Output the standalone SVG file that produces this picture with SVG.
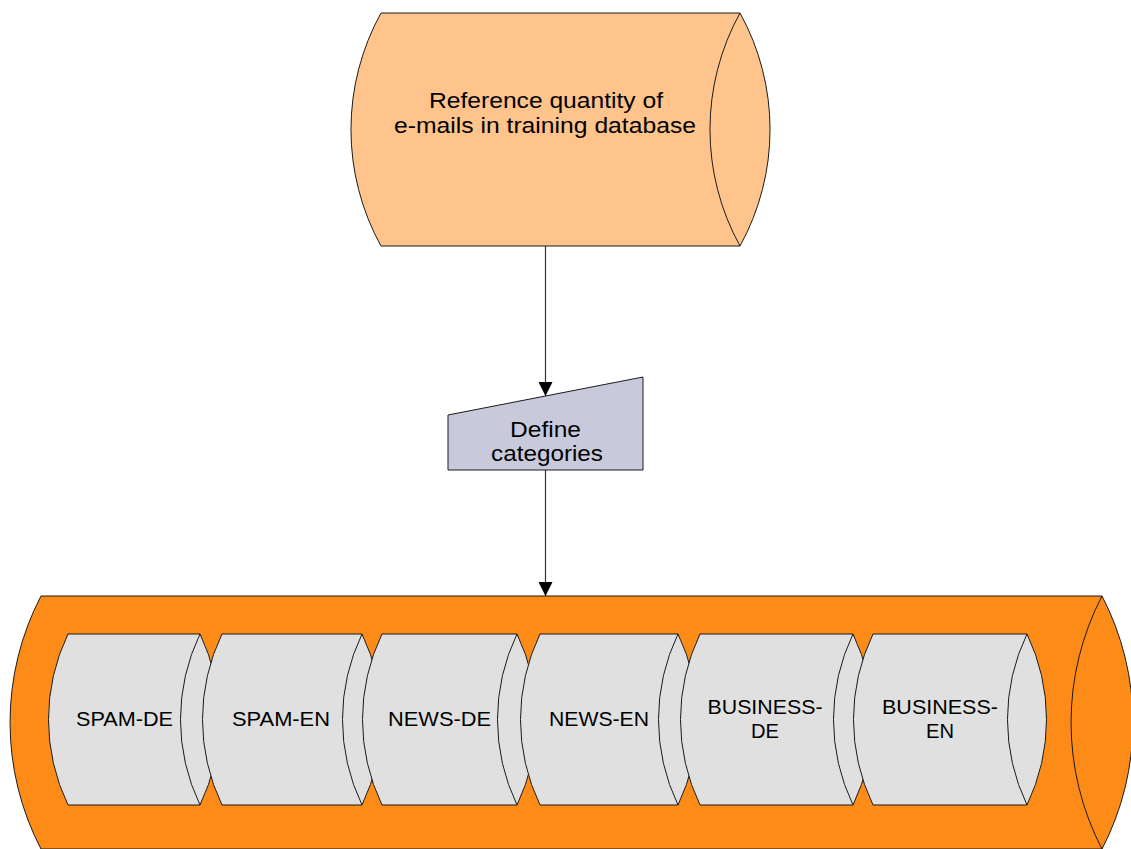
<svg xmlns="http://www.w3.org/2000/svg" width="1131" height="849" viewBox="0 0 1131 849">
  <defs>
    <marker id="arrow" viewBox="0 0 14 14" refX="14" refY="7" markerWidth="14" markerHeight="14" markerUnits="userSpaceOnUse" orient="auto">
      <path d="M0,0 L14,7 L0,14 Z" fill="#000"/>
    </marker>
    <style>
      .edge { stroke: #1a1a1a; stroke-width: 1; fill: none; }
      .line { stroke: #333; stroke-width: 1.2; fill: none; }
      .label { font-family: "Liberation Sans", Arial, sans-serif; fill: #000; text-anchor: middle; }
      .db { fill: #FFC48B; stroke: #1a1a1a; stroke-width: 1; }
      .func { fill: #C8CADB; stroke: #1a1a1a; stroke-width: 1; }
      .cluster { fill: #FD8B17; stroke: #1a1a1a; stroke-width: 1; }
      .cat { fill: #E0E0E0; stroke: #1a1a1a; stroke-width: 1; }
    </style>
  </defs>

  <rect width="1131" height="849" fill="#fff"/>

  <!-- Connectors -->
  <g id="connectors">
    <line class="line" x1="545.5" y1="246" x2="545.5" y2="396" marker-end="url(#arrow)"/>
    <line class="line" x1="545.5" y1="470" x2="545.5" y2="596" marker-end="url(#arrow)"/>
  </g>

  <!-- Source data store -->
  <g id="reference-emails">
    <path class="db" d="M381,13 L740,13 A241 241 0 0 1 740,246 L381,246 A241 241 0 0 1 381,13 Z"/>
    <path class="edge" d="M740,13 A241 241 0 0 0 740,246"/>
    <text class="label" font-size="22" x="546" y="108" textLength="234" lengthAdjust="spacingAndGlyphs">Reference quantity of</text>
    <text class="label" font-size="22" x="545" y="133" textLength="302" lengthAdjust="spacingAndGlyphs">e-mails in training database</text>
  </g>

  <!-- Function -->
  <g id="define-categories">
    <polygon class="func" points="448,415 643,377 643,470 448,470"/>
    <text class="label" font-size="22" x="545.5" y="437" textLength="71" lengthAdjust="spacingAndGlyphs">Define</text>
    <text class="label" font-size="22" x="547" y="461" textLength="112" lengthAdjust="spacingAndGlyphs">categories</text>
  </g>

  <!-- Category cluster -->
  <g id="categories">
    <path class="cluster" d="M41,596 L1102,596 A274 274 0 0 1 1102,849 L41,849 A274 274 0 0 1 41,596 Z"/>
    <path class="edge" d="M1102,596 A274 274 0 0 0 1102,849"/>
  </g>

  <g id="spam-de">
    <path class="cat" d="M68,634 L200,634 A197 197 0 0 1 200,805 L68,805 A197 197 0 0 1 68,634 Z"/>
    <path class="edge" d="M200,634 A197 197 0 0 0 200,805"/>
    <text class="label" font-size="21" x="124.5" y="726" textLength="97" lengthAdjust="spacingAndGlyphs">SPAM-DE</text>
  </g>

  <g id="spam-en">
    <path class="cat" d="M222,634 L362,634 A197 197 0 0 1 362,805 L222,805 A197 197 0 0 1 222,634 Z"/>
    <path class="edge" d="M362,634 A197 197 0 0 0 362,805"/>
    <text class="label" font-size="21" x="281" y="726" textLength="98" lengthAdjust="spacingAndGlyphs">SPAM-EN</text>
  </g>

  <g id="news-de">
    <path class="cat" d="M382,634 L517,634 A197 197 0 0 1 517,805 L382,805 A197 197 0 0 1 382,634 Z"/>
    <path class="edge" d="M517,634 A197 197 0 0 0 517,805"/>
    <text class="label" font-size="21" x="439.5" y="726" textLength="103" lengthAdjust="spacingAndGlyphs">NEWS-DE</text>
  </g>

  <g id="news-en">
    <path class="cat" d="M540,634 L678,634 A197 197 0 0 1 678,805 L540,805 A197 197 0 0 1 540,634 Z"/>
    <path class="edge" d="M678,634 A197 197 0 0 0 678,805"/>
    <text class="label" font-size="21" x="599" y="726" textLength="100" lengthAdjust="spacingAndGlyphs">NEWS-EN</text>
  </g>

  <g id="business-de">
    <path class="cat" d="M700,634 L853,634 A197 197 0 0 1 853,805 L700,805 A197 197 0 0 1 700,634 Z"/>
    <path class="edge" d="M853,634 A197 197 0 0 0 853,805"/>
    <text class="label" font-size="21" x="765" y="714" textLength="115" lengthAdjust="spacingAndGlyphs">BUSINESS-</text>
    <text class="label" font-size="21" x="765" y="738" textLength="28" lengthAdjust="spacingAndGlyphs">DE</text>
  </g>

  <g id="business-en">
    <path class="cat" d="M873,634 L1027,634 A197 197 0 0 1 1027,805 L873,805 A197 197 0 0 1 873,634 Z"/>
    <path class="edge" d="M1027,634 A197 197 0 0 0 1027,805"/>
    <text class="label" font-size="21" x="940" y="714" textLength="116" lengthAdjust="spacingAndGlyphs">BUSINESS-</text>
    <text class="label" font-size="21" x="940" y="738" textLength="28" lengthAdjust="spacingAndGlyphs">EN</text>
  </g>
</svg>
